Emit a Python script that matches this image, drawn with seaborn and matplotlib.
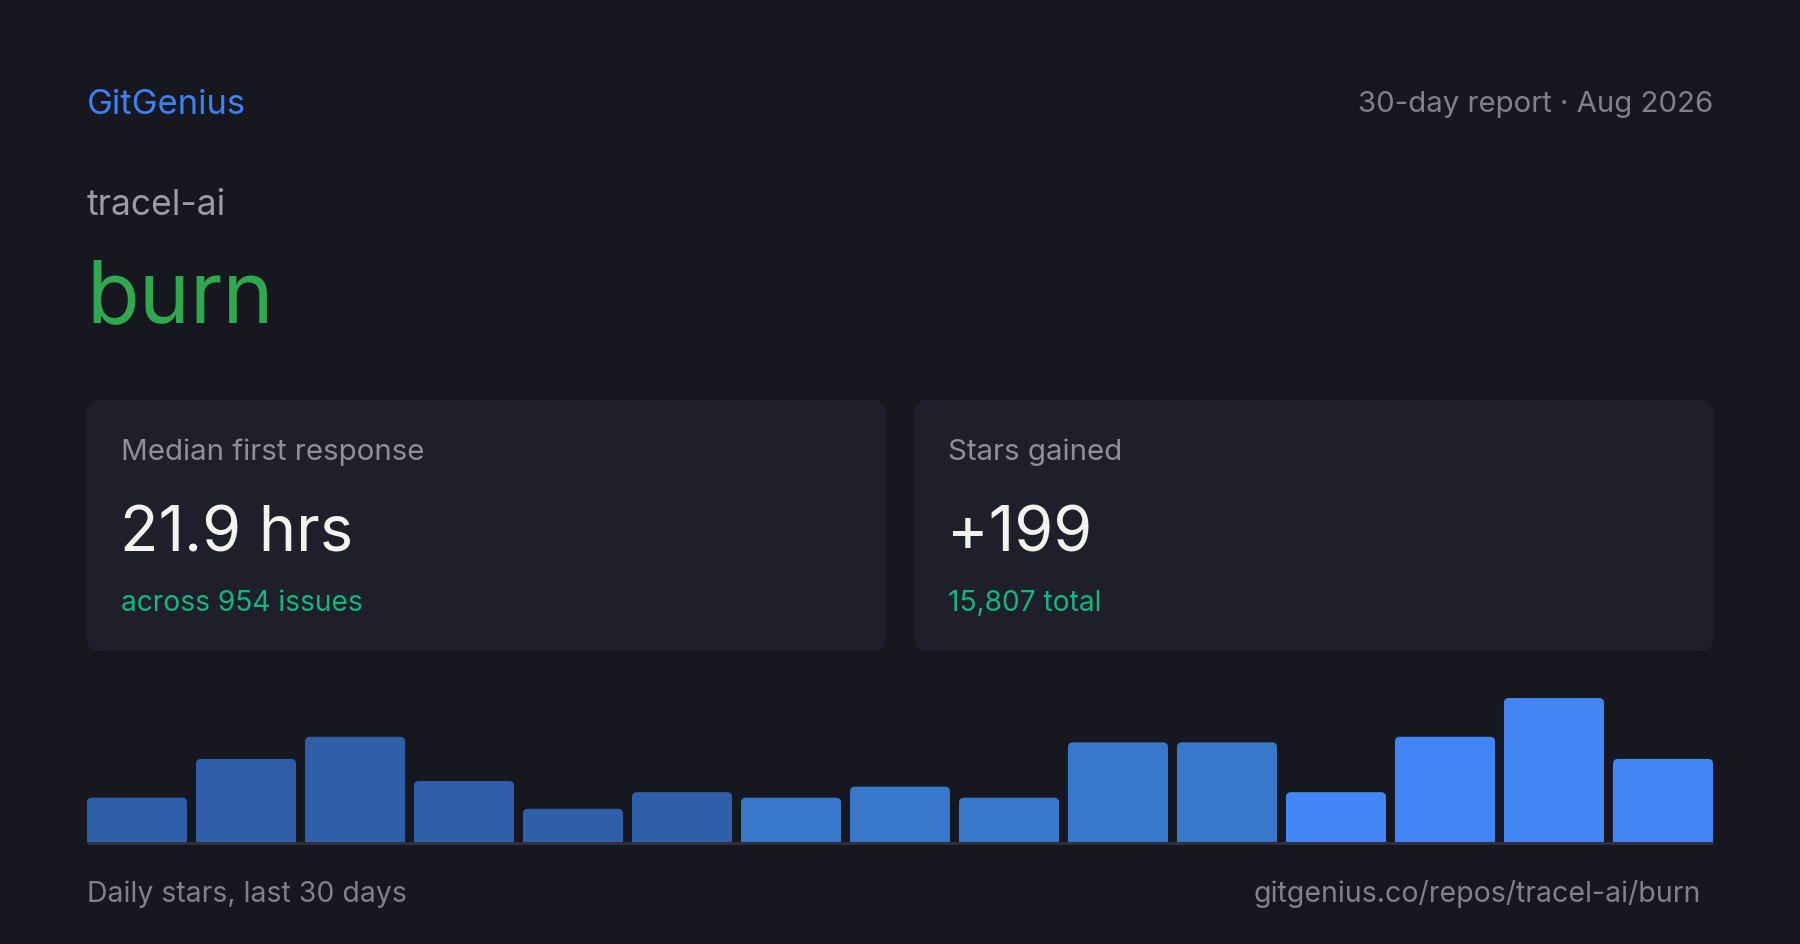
import matplotlib
matplotlib.use("Agg")
import matplotlib.pyplot as plt
from matplotlib.patches import FancyBboxPatch
import seaborn as sns
import pandas as pd

day_bins = list(range(15))
stars = [8, 15, 19, 11, 6, 9, 8, 10, 8, 18, 18, 9, 19, 26, 15]
age_group = ["old"] * 6 + ["mid"] * 5 + ["new"] * 4
group_colors = {"old": "#2f5fa9", "mid": "#3778cb", "new": "#4285f4"}

brand = "GitGenius"
report = "30-day report \u00b7 Aug 2026"
owner = "tracel-ai"
repo = "burn"
card_labels = ["Median first response", "Stars gained"]
card_values = ["21.9 hrs", "+199"]
card_notes = ["across 954 issues", "15,807 total"]
footer_left = "Daily stars, last 30 days"
footer_right = "gitgenius.co/repos/tracel-ai/burn"

BG = "#16171f"
CARD = "#1f1f2b"

sns.set_theme(style="white")
plt.rcParams["font.family"] = ["Inter", "DejaVu Sans"]

W, H = 1800, 945
fig = plt.figure(figsize=(W / 100, H / 100), dpi=100, facecolor=BG)

# full-figure axes in pixel units for cards and text
bg = fig.add_axes([0, 0, 1, 1])
bg.set_xlim(0, W)
bg.set_ylim(H, 0)
bg.axis("off")
bg.set_facecolor(BG)


def pt(px):
    return px * 0.72


bg.text(87, 114, brand, color="#3b82f6", fontsize=pt(34.7), va="baseline")
bg.text(1713, 112, report, color="#7f818b", fontsize=pt(29.4), va="baseline", ha="right")
bg.text(87, 215, owner, color="#9a9ba3", fontsize=pt(35.5), va="baseline")
bg.text(86, 322, repo, color="#2fa84f", fontsize=pt(86.5), va="baseline")

card_x = [87, 914]
for i in range(2):
    x0 = card_x[i]
    bg.add_patch(FancyBboxPatch((x0, 401), 799, 251,
                                boxstyle="round,pad=0,rounding_size=13",
                                facecolor=CARD, edgecolor="none", zorder=1))
    bg.text(x0 + 34, 460, card_labels[i], color="#8e8f99", fontsize=pt(29.5),
            va="baseline", zorder=2)
    bg.text(x0 + 33, 551, card_values[i], color="#f2f2ee", fontsize=pt(63),
            va="baseline", zorder=2)
    bg.text(x0 + 34, 611, card_notes[i], color="#14b57f", fontsize=pt(28.2),
            va="baseline", zorder=2)

# baseline under bars
bg.plot([87, 1713], [844, 844], color="#33343f", lw=1.8, solid_capstyle="butt")

bg.text(87, 902, footer_left, color="#80818b", fontsize=pt(28.4), va="baseline")
bg.text(1701, 902, footer_right, color="#80818b", fontsize=pt(28.5), va="baseline",
        ha="right")

# bar chart
bar_w = 0.918
ymax = 26
ax = fig.add_axes([87 / W, (H - 843) / H, 1626 / W, 144 / H])
df = pd.DataFrame({"day": day_bins, "stars": stars, "grp": age_group})
sns.barplot(data=df, x="day", y="stars", hue="grp", palette=group_colors,
            width=bar_w, dodge=False, legend=False, saturation=1, ax=ax)
ax.set_xlim(-bar_w / 2, 14 + bar_w / 2)
ax.set_ylim(0, ymax)
ax.axis("off")
ax.patch.set_alpha(0)

px_x = 1626 / (14 + bar_w)
px_y = 144 / ymax
aspect = px_x / px_y
rs = 5 / px_x
for p in list(ax.patches):
    if p.get_height() <= 0:
        continue
    x, w, h = p.get_x(), p.get_width(), p.get_height()
    fc = p.get_facecolor()
    p.set_visible(False)
    ax.add_patch(FancyBboxPatch((x, -1), w, h + 1,
                                boxstyle=f"round,pad=0,rounding_size={rs}",
                                mutation_aspect=aspect, facecolor=fc,
                                edgecolor="none"))

fig.savefig("out.png", dpi=100, facecolor=BG)
